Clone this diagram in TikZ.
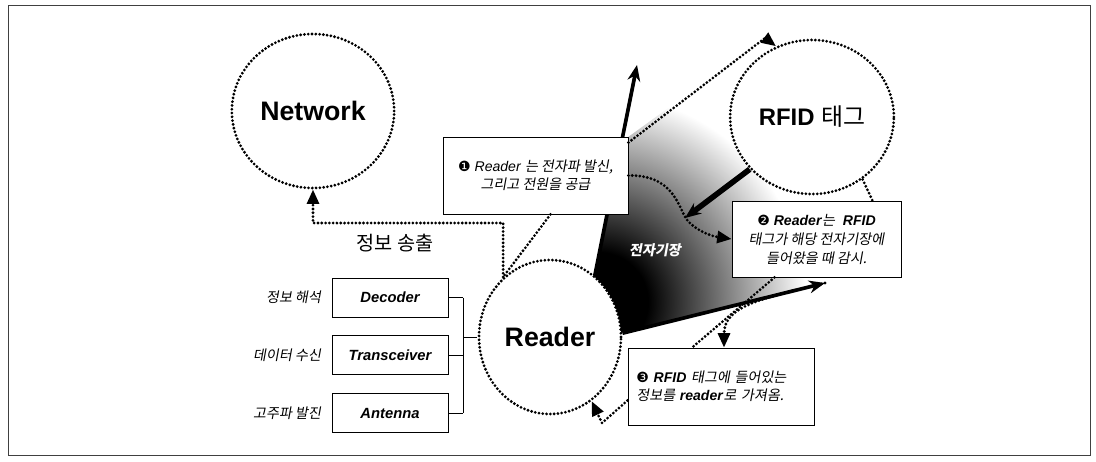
\documentclass[tikz,border=0pt]{standalone}
\usepackage{fontspec}
\setmainfont{Liberation Sans}
\newfontfamily\kr{Noto Sans CJK KR}
\newfontfamily\krit[FakeSlant=0.18]{Noto Sans CJK KR}
\newfontfamily\dingfont{DejaVu Sans}
\usetikzlibrary{calc,positioning,arrows.meta,shapes.geometric,backgrounds}
\pgfdeclareradialshading{field}{\pgfpoint{0bp}{0bp}}{color(0bp)=(black); color(6bp)=(black); color(25bp)=(white); color(50bp)=(white)}
\tikzset{
    zone/.style={ellipse, draw, dots, fill=white, minimum width=3.55cm, minimum height=3.85cm, font=\bfseries\fontsize{19}{22}\selectfont},
    dots/.style={line width=2.2pt, dash pattern=on 0pt off 2.7pt, line cap=round},
    tipped/.style={-{Triangle[length=3.6mm, width=3mm]}},
    note/.style={rectangle, draw, fill=white, line width=0.6pt, align=center, inner sep=2pt, font=\fontsize{10}{12.5}\selectfont},
    part/.style={rectangle, draw, fill=white, line width=0.6pt, minimum width=2.9cm, minimum height=0.975cm, font=\bfseries\itshape\fontsize{10.5}{12}\selectfont},
    role/.style={inner sep=1pt, font=\krit\fontsize{10}{11}\selectfont},
    beam/.style={line width=2.6pt, -{Stealth[length=4mm, width=3.2mm]}}
}

\begin{document}
\begin{tikzpicture}[x=0.025cm, y=-0.025cm]
    \useasboundingbox (0,0) rectangle (1096,461);
    \draw[line width=0.6pt, black!75] (8,5) rectangle (1090,455);

    % Nodes
    \node[zone] (net) at (313,111) {Network};
    \node[zone, font=\bfseries\fontsize{17}{20}\selectfont] (tag) at (812,117) {RFID {\kr\mdseries 태그}};
    \node[zone] (rdr) at (550,337) {Reader};

    \coordinate (up) at (637,65);
    \coordinate (hit) at (685,218);
    \coordinate (tip) at (825,283);
    \coordinate (corner) at (313,223);
    \coordinate (peak) at (765,38);
    \coordinate (low) at (602,423);

    % field
    \begin{scope}[on background layer]
        \clip (593,277) -- (624,140) -- (765,38) -- (790,210) -- (828,282) -- (620,333) -- cycle;
        \shade[shading=field] (598,302) circle (5.2cm);
    \end{scope}
    \draw[beam] (rdr.54) -- (up);
    \draw[beam] (rdr.3) -- (tip);
    \draw[beam, line width=4pt] (tag.220) -- (hit);

    \node[note, minimum width=4.625cm, minimum height=1.925cm] (n1) at (535.5,175.5)
        {{\dingfont ❶} \textit{Reader} {\krit 는 전자파 발신,}\\{\krit 그리고 전원을 공급}};
    \node[note, minimum width=4.225cm, minimum height=1.9cm, font=\fontsize{10}{13.5}\selectfont] (n2) at (816.5,239)
        {{\dingfont ❷} \textbf{\textit{Reader}}{\krit 는}\ \ \textbf{\textit{RFID}}\\{\krit 태그가 해당 전자기장에}\\{\krit 들어왔을 때 감시.}};
    \node[note, align=left, text width=4.23cm, inner xsep=6pt, minimum height=1.925cm] (n3) at (721,386.5)
        {{\dingfont ❸} \textbf{\textit{RFID}} {\krit 태그에 들어있는}\\{\krit 정보를} \textbf{\textit{reader}}{\krit 로 가져옴.}};

    \node[part] (dec) at (390,297.5) {Decoder};
    \node[part] (trx) at (390,355) {Transceiver};
    \node[part] (ant) at (390,413) {Antenna};
    \node[role, left=0.22cm of dec] (ldec) {정보 해석};
    \node[role, left=0.22cm of trx] (ltrx) {데이터 수신};
    \node[role, left=0.22cm of ant] (lant) {고주파 발진};

    \node[font=\kr\fontsize{14}{16}\selectfont] (send) at (395,243) {정보 송출};
    \node[text=white, font=\krit\bfseries\fontsize{10}{12}\selectfont] (fld) at (655,250) {전자기장};

    % edges
    \draw[dots, tipped] (rdr.128) |- (corner) -- (net.south);
    \draw[dots] ($(n1.south)+(15,0)$) -- (rdr.128);
    \draw[dots, tipped] ($(n1.north east)+(0,6)$) -- (peak) -- (tag.117);
    \draw[dots, tipped] (n1.east) .. controls (665,175) and (675,195) .. (684,215) .. controls (690,228) and (710,236) .. (n2.west);
    \draw[dots] (tag.-51) -- ($(n2.north)+(56,0)$);
    \draw[dots] ($(n2.south)+(-42,0)$) -- ($(n3.north)+(-29,0)$);
    \draw[dots, tipped] (tip) .. controls (765,298) and (724,305) .. ($(n3.north)+(3,0)$);
    \draw[dots, tipped] ($(n3.west)+(0,14)$) -- (low) -- (rdr.-57);

    % parts of the reader
    \draw[line width=0.6pt] (dec.east) -- ++(15,0) coordinate (b1);
    \draw[line width=0.6pt] (trx.east) -- ++(15,0);
    \draw[line width=0.6pt] (ant.east) -- ++(15,0) coordinate (b3);
    \draw[line width=0.6pt] (b1) -- (b3);
    \draw[line width=0.6pt] (b1 |- rdr.west) -- (rdr.west);
\end{tikzpicture}
\end{document}
